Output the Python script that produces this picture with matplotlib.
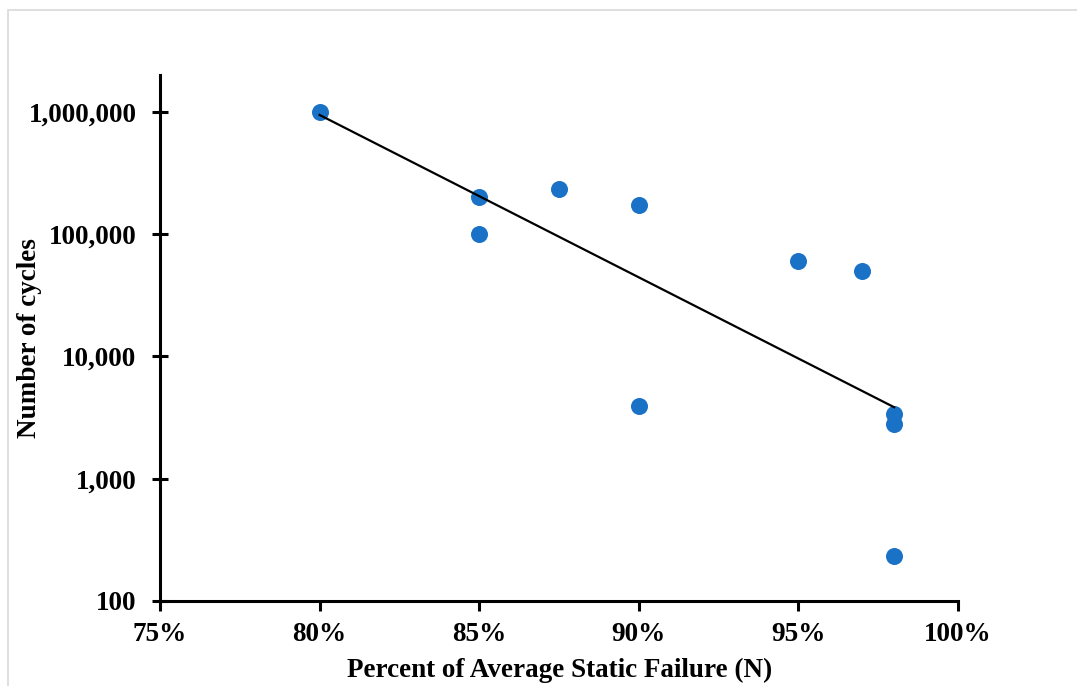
import numpy as np
import matplotlib
matplotlib.use("Agg")
import matplotlib.pyplot as plt
from matplotlib.ticker import FuncFormatter, FixedLocator, NullLocator
from matplotlib.patches import Rectangle

# percent of average static failure and measured cycles
load_pct = [80, 85, 85, 87.5, 90, 95, 97, 90, 98, 98, 98]
cycles = [1000000, 200000, 100000, 232000, 172000, 60000, 50000, 3900, 3400, 2800, 235]

x_ticks = [75, 80, 85, 90, 95, 100]
y_ticks = [100, 1000, 10000, 100000, 1000000]

plt.rcParams['font.family'] = ['Liberation Serif', 'DejaVu Serif']
plt.rcParams['font.weight'] = 'bold'

fig = plt.figure(figsize=(10.77, 6.86), dpi=100)
ax = fig.add_axes([160/1077, 1-601/686, (958-160)/1077, (601-75)/686])

# light frame around the chart like the excel chart area
fig.patches.append(Rectangle((8/1077, -0.05), 1.2, 1-10/686+0.05, transform=fig.transFigure,
                             fill=False, edgecolor='#d9d9d9', linewidth=1.2))

ax.scatter(load_pct, cycles, s=150, color='#1a72c6', zorder=3, linewidths=0)

# exponential trendline (fit on log of cycles)
b, a = np.polyfit(load_pct, np.log(cycles), 1)
xt = np.array([min(load_pct), max(load_pct)])
ax.plot(xt, np.exp(a + b*xt), color='black', linewidth=1.6, zorder=4)

ax.set_yscale('log')
ax.set_xlim(75, 100)
ax.set_ylim(100, 2e6)
ax.xaxis.set_major_locator(FixedLocator(x_ticks))
ax.yaxis.set_major_locator(FixedLocator(y_ticks))
ax.yaxis.set_minor_locator(NullLocator())
ax.xaxis.set_major_formatter(FuncFormatter(lambda v, p: f"{v:.0f}%"))
ax.yaxis.set_major_formatter(FuncFormatter(lambda v, p: f"{v:,.0f}"))

for side in ['top', 'right']:
    ax.spines[side].set_visible(False)
for side in ['left', 'bottom']:
    ax.spines[side].set_linewidth(2.2)

ax.tick_params(axis='y', direction='inout', length=12, width=2.2, labelsize=19.5, pad=11)
ax.tick_params(axis='x', direction='out', length=7, width=2.2, labelsize=19.5, pad=8)

ax.set_xlabel('Percent of Average Static Failure (N)', fontsize=19.5, fontweight='bold')
ax.set_ylabel('Number of cycles', fontsize=19.5, fontweight='bold')
ax.xaxis.set_label_coords(0.501, -0.108)
ax.yaxis.set_label_coords(-0.148, 0.5)

fig.savefig('out.png', dpi=100)
